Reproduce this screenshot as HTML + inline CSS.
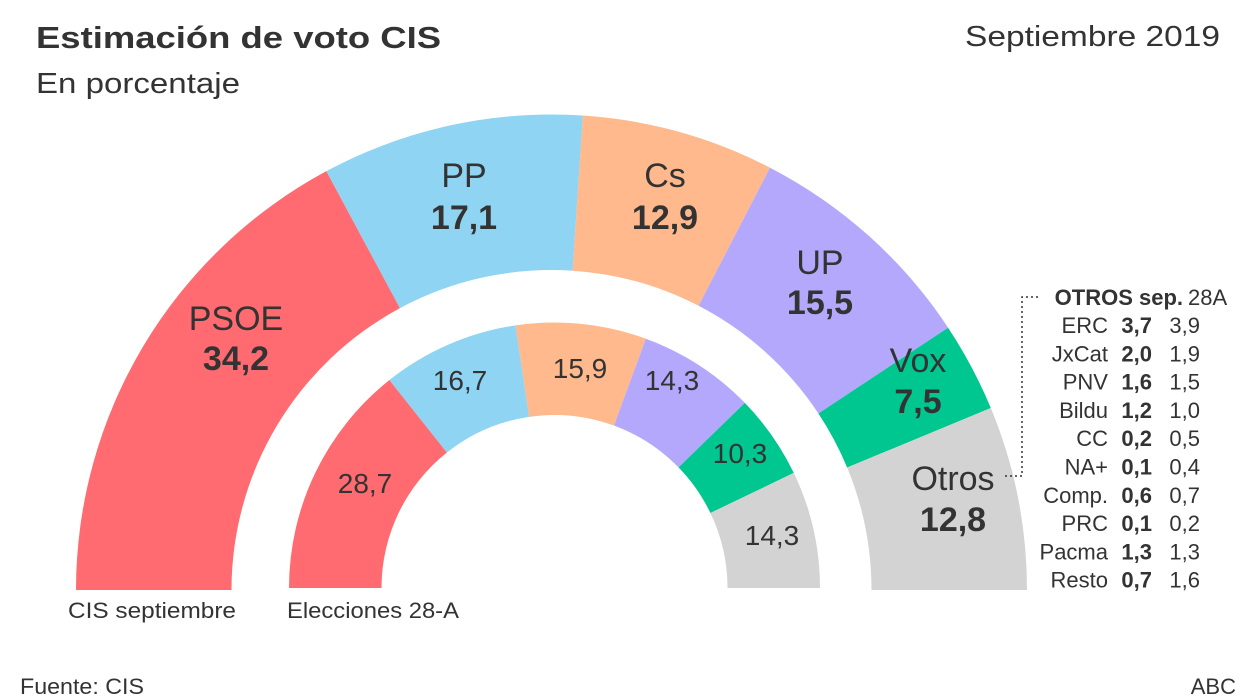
<!DOCTYPE html>
<html><head><meta charset="utf-8"><style>
body{margin:0;background:#fff;}
svg{display:block;font-family:"Liberation Sans",sans-serif;fill:#333;}
</style></head><body>
<svg id="s" width="1248" height="698" viewBox="0 0 1248 698">
<g id="arcs"></g>
<text x="36" y="48" font-size="31" font-weight="bold" textLength="405" lengthAdjust="spacingAndGlyphs">Estimación de voto CIS</text>
<text x="36" y="93" font-size="29" textLength="204" lengthAdjust="spacingAndGlyphs">En porcentaje</text>
<text x="965" y="46" font-size="29" textLength="255" lengthAdjust="spacingAndGlyphs">Septiembre 2019</text>
<text x="20" y="694" font-size="22" textLength="124" lengthAdjust="spacingAndGlyphs">Fuente: CIS</text>
<text x="1236" y="694" font-size="22" text-anchor="end">ABC</text>
<text x="68" y="618" font-size="22" textLength="168" lengthAdjust="spacingAndGlyphs">CIS septiembre</text>
<text x="287" y="618" font-size="22" textLength="172" lengthAdjust="spacingAndGlyphs">Elecciones 28-A</text>
<g text-anchor="middle" font-size="34">
<text x="236" y="330">PSOE</text><text x="236" y="370" font-weight="bold">34,2</text>
<text x="464" y="187">PP</text><text x="464" y="229" font-weight="bold">17,1</text>
<text x="665" y="187">Cs</text><text x="665" y="229" font-weight="bold">12,9</text>
<text x="820" y="274">UP</text><text x="820" y="314" font-weight="bold">15,5</text>
<text x="918" y="372">Vox</text><text x="918" y="413" font-weight="bold">7,5</text>
<text x="953" y="490">Otros</text><text x="953" y="531" font-weight="bold">12,8</text>
</g>
<g text-anchor="middle" font-size="28">
<text x="365" y="493">28,7</text>
<text x="460" y="390">16,7</text>
<text x="580" y="378">15,9</text>
<text x="672" y="390">14,3</text>
<text x="740" y="463">10,3</text>
<text x="772" y="545">14,3</text>
</g>
<path d="M1005 476 H1022 V297 H1040" fill="none" stroke="#333" stroke-width="1.5" stroke-dasharray="2,3"/>
<g font-size="22">
<text x="1183" y="305" text-anchor="end" font-weight="bold">OTROS sep.</text><text x="1188" y="305">28A</text>
</g>
<g id="tbl" font-size="22"></g>
</svg>
<script>
var NS="http://www.w3.org/2000/svg";
function arc(cx,cy,R,r,a0,a1,col){
 var p=function(rad,a){return [cx-rad*Math.cos(a),cy-rad*Math.sin(a)];};
 var A=p(R,a0),B=p(R,a1),C=p(r,a1),D=p(r,a0);
 var d="M"+A+" A"+R+","+R+" 0 0 1 "+B+" L"+C+" A"+r+","+r+" 0 0 0 "+D+"Z";
 var e=document.createElementNS(NS,"path");e.setAttribute("d",d);e.setAttribute("fill",col);
 document.getElementById("arcs").appendChild(e);
}
var cols=["#ff6b70","#8fd4f2","#ffb98c","#b3a8fb","#00c68f","#d3d3d3"];
function ringB(cx,cy,R,r,b){var prev=0;
 b.forEach(function(f,i){arc(cx,cy,R,r,prev*Math.PI,f*Math.PI,cols[i]);prev=f;});}
function ring(cx,cy,R,r,vals){var t=vals.reduce(function(a,b){return a+b},0),acc=0,b=[];
 vals.forEach(function(v){acc+=v;b.push(acc/t);});ringB(cx,cy,R,r,b);}
ringB(551.5,590,475.5,320,[0.343,0.521,0.652,0.814,0.875,1]);
ring(554.5,588,265.5,173,[28.7,16.7,15.9,14.3,10.3,14.3]);
var rows=[["ERC","3,7","3,9"],["JxCat","2,0","1,9"],["PNV","1,6","1,5"],["Bildu","1,2","1,0"],["CC","0,2","0,5"],["NA+","0,1","0,4"],["Comp.","0,6","0,7"],["PRC","0,1","0,2"],["Pacma","1,3","1,3"],["Resto","0,7","1,6"]];
var g=document.getElementById("tbl");
rows.forEach(function(r,i){var y=333+i*28.3;
 [[r[0],1108,""],[r[1],1152,"bold"],[r[2],1200,""]].forEach(function(c){
 var t=document.createElementNS(NS,"text");t.setAttribute("x",c[1]);t.setAttribute("y",y);t.setAttribute("text-anchor","end");if(c[2])t.setAttribute("font-weight","bold");t.textContent=c[0];g.appendChild(t);});});
</script>
</body></html>
